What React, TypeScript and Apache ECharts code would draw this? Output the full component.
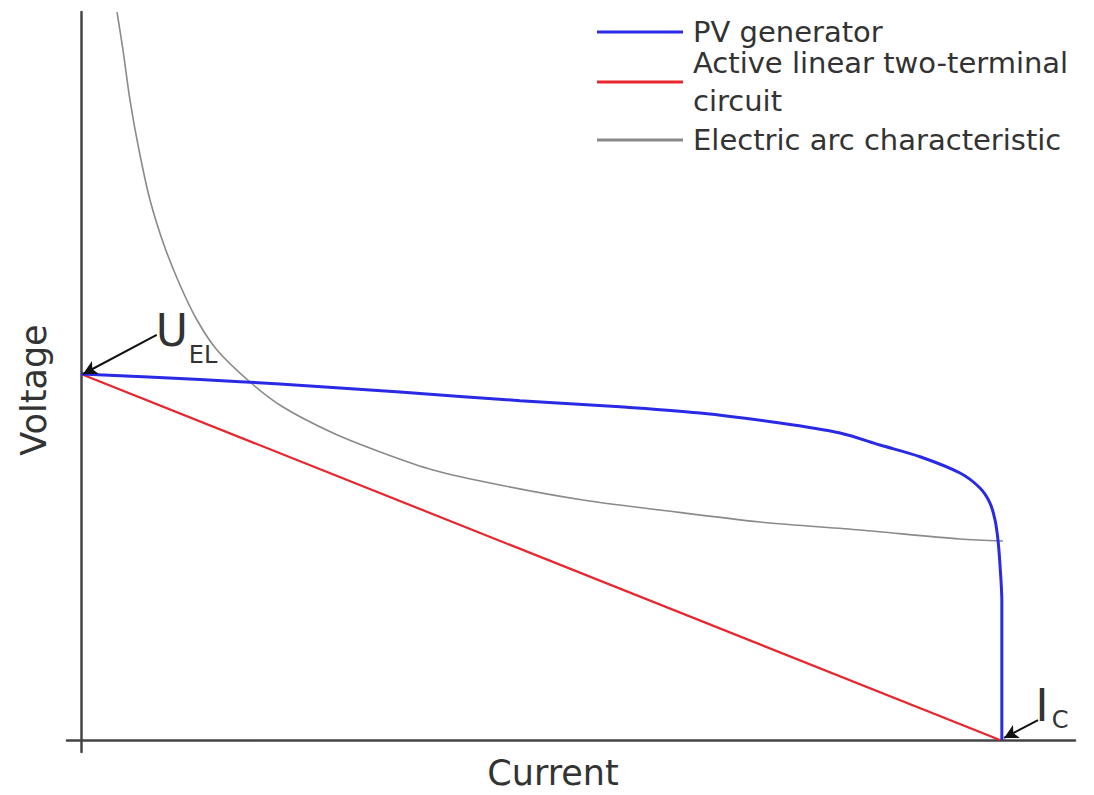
import React, { useEffect, useRef } from "react";
import * as echarts from "echarts";

// Current (I/I_C) and voltage (U/U_EL) readings, normalised to I_C = 1 and U_EL = 1
const pvCurrent = [0, 0.1295, 0.2165, 0.3471, 0.4777, 0.5865, 0.6736, 0.7606, 0.8259, 0.8694, 0.913, 0.9565, 0.9782, 0.9891, 0.9946, 0.9978, 1.0, 1.002, 1.002];
const pvVoltage = [1.0, 0.985, 0.9727, 0.9508, 0.927, 0.9107, 0.8934, 0.8661, 0.8388, 0.806, 0.774, 0.7295, 0.6885, 0.6475, 0.6011, 0.5464, 0.4781, 0.38, 0];

const linCurrent = [0, 1];
const linVoltage = [1, 0];

const arcCurrent = [0.0392, 0.0457, 0.0533, 0.0631, 0.0751, 0.0903, 0.1077, 0.1262, 0.148, 0.1839, 0.2198, 0.2742, 0.3286, 0.383, 0.4559, 0.5462, 0.63, 0.7388, 0.8477, 0.9565, 1.0033];
const arcVoltage = [1.989, 1.8852, 1.7486, 1.612, 1.4754, 1.3525, 1.2432, 1.1475, 1.0656, 0.9781, 0.9098, 0.8388, 0.7842, 0.7377, 0.6967, 0.6557, 0.6284, 0.5956, 0.5738, 0.5492, 0.5437];

const seriesNames = ["PV generator", "Active linear two-terminal\ncircuit", "Electric arc characteristic"];

const zip = (xs: number[], ys: number[]) => xs.map((x, i) => [x, ys[i]]);

export default function App() {
  const ref = useRef<HTMLDivElement>(null);
  useEffect(() => {
    if (!ref.current) return;
    const chart = echarts.init(ref.current, undefined, { renderer: "svg" });
    const font = "DejaVu Sans";
    const legendBase = {
      orient: "vertical",
      left: 597,
      padding: 0,
      itemWidth: 86,
      itemHeight: 3,
      icon: "rect",
      selectedMode: false,
      textStyle: { fontFamily: font, fontSize: 29, color: "#333", padding: [0, 0, 0, 5] },
    };
    chart.setOption({
      animation: false,
      backgroundColor: "#fff",
      grid: { left: 67, right: 19, top: 12, bottom: 43, outerBoundsMode: "none", containLabel: false },
      legend: [
        { ...legendBase, top: 14, data: [seriesNames[0]], textStyle: { ...legendBase.textStyle, lineHeight: 36 } },
        { ...legendBase, top: 44, data: [seriesNames[1]], textStyle: { ...legendBase.textStyle, lineHeight: 38 } },
        { ...legendBase, top: 122, data: [seriesNames[2]], textStyle: { ...legendBase.textStyle, lineHeight: 36 } },
      ],
      xAxis: {
        type: "value",
        min: -14 / 919,
        max: 994 / 919,
        name: "Current",
        nameLocation: "middle",
        nameGap: 3,
        nameTextStyle: { fontFamily: font, fontSize: 35, color: "#333", padding: [0, 36, 0, 0] },
        axisLine: { onZero: true, lineStyle: { color: "#444", width: 2.5 } },
        axisTick: { show: false },
        axisLabel: { show: false },
        splitLine: { show: false },
      },
      yAxis: {
        type: "value",
        min: -12 / 366,
        max: 728 / 366,
        name: "Voltage",
        nameLocation: "middle",
        nameGap: 16,
        nameTextStyle: { fontFamily: font, fontSize: 35, color: "#333", padding: [0, 16, 0, 0] },
        axisLine: { onZero: true, lineStyle: { color: "#444", width: 2.5 } },
        axisTick: { show: false },
        axisLabel: { show: false },
        splitLine: { show: false },
      },
      series: [
        {
          name: seriesNames[0],
          type: "line",
          color: "#2a2ae6",
          data: zip(pvCurrent, pvVoltage),
          smooth: 0.3,
          symbol: "none",
          lineStyle: { width: 3, color: "#2a2ae6" },
          z: 3,
        },
        {
          name: seriesNames[1],
          type: "line",
          color: "#e8262e",
          data: zip(linCurrent, linVoltage),
          symbol: "none",
          lineStyle: { width: 2.2, color: "#e8262e" },
          z: 2,
          markLine: {
            silent: true,
            symbol: ["none", "arrow"],
            symbolSize: [11, 14],
            label: { show: false },
            lineStyle: { color: "#111", width: 2, type: "solid" },
            data: [
              [{ coord: [0.0824, 1.1066] }, { coord: [0.0022, 1.0] }],
              [{ coord: [1.0413, 0.0546] }, { coord: [1.0044, 0.0055] }],
            ],
          },
          markPoint: {
            silent: true,
            symbol: "circle",
            symbolSize: 0,
            data: [
              { coord: [0.099, 1.118], label: { show: true, formatter: "U", fontFamily: font, fontSize: 44, color: "#333" } },
              { coord: [0.1328, 1.052], label: { show: true, formatter: "EL", fontFamily: font, fontSize: 24, color: "#333" } },
              { coord: [1.0457, 0.0956], label: { show: true, formatter: "I", fontFamily: font, fontSize: 44, color: "#333" } },
              { coord: [1.0653, 0.0546], label: { show: true, formatter: "C", fontFamily: font, fontSize: 24, color: "#333" } },
            ],
          },
        },
        {
          name: seriesNames[2],
          type: "line",
          color: "#8a8a8a",
          data: zip(arcCurrent, arcVoltage),
          smooth: 0.3,
          symbol: "none",
          lineStyle: { width: 1.6, color: "#8a8a8a" },
          z: 1,
        },
      ],
    });
    return () => chart.dispose();
  }, []);
  return <div ref={ref} style={{ position: "absolute", left: 0, top: 0, width: 1094, height: 795 }} />;
}
